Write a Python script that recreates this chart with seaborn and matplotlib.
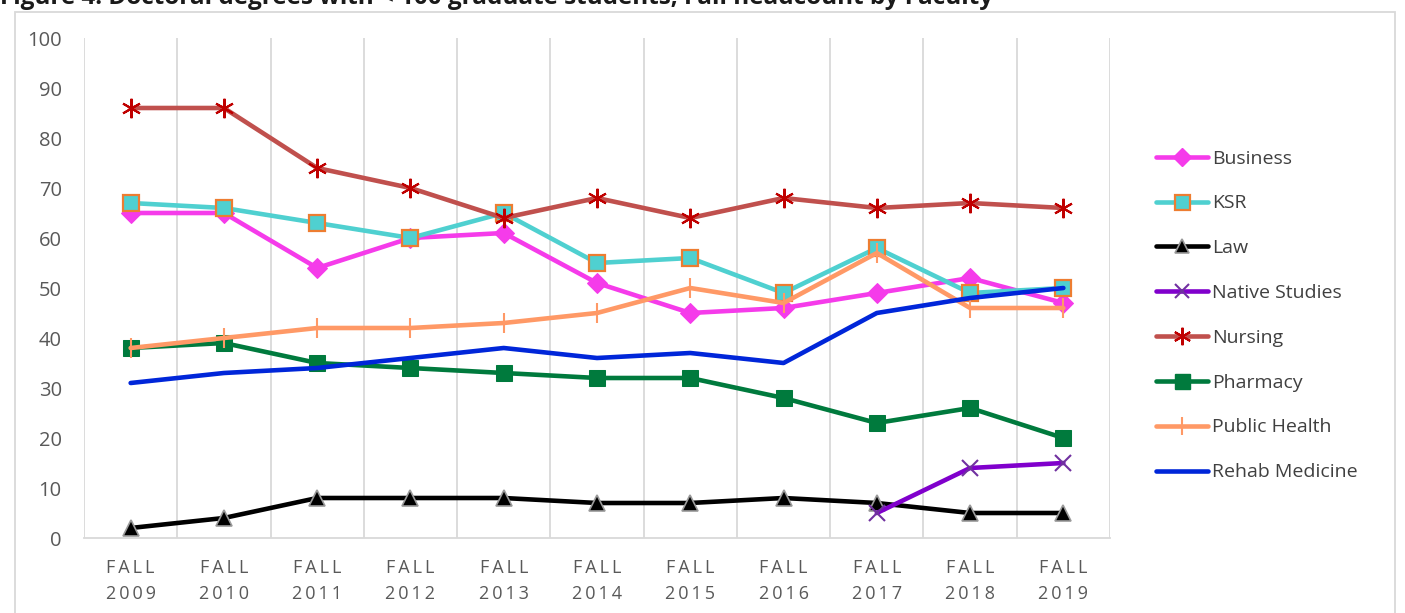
import numpy as np
import pandas as pd
import matplotlib
matplotlib.use("Agg")
import matplotlib.pyplot as plt
import seaborn as sns
from matplotlib.lines import Line2D
from matplotlib.patches import Rectangle

years = ["2009", "2010", "2011", "2012", "2013", "2014", "2015", "2016", "2017", "2018", "2019"]
business = [65, 65, 54, 60, 61, 51, 45, 46, 49, 52, 47]
ksr = [67, 66, 63, 60, 65, 55, 56, 49, 58, 49, 50]
law = [2, 4, 8, 8, 8, 7, 7, 8, 7, 5, 5]
native = [np.nan] * 8 + [5, 14, 15]
nursing = [86, 86, 74, 70, 64, 68, 64, 68, 66, 67, 66]
pharmacy = [38, 39, 35, 34, 33, 32, 32, 28, 23, 26, 20]
public_health = [38, 40, 42, 42, 43, 45, 50, 47, 57, 46, 46]
rehab = [31, 33, 34, 36, 38, 36, 37, 35, 45, 48, 50]

series = [
    ("Business", business, dict(color="#F53BEA", marker="D", ms=10, mfc="#F53BEA", mec="#F53BEA")),
    ("KSR", ksr, dict(color="#4FD0D0", marker="s", ms=12, mfc="#4FD0D0", mec="#ED7D31", mew=1.6)),
    ("Law", law, dict(color="#000000", marker="^", ms=11, mfc="#000000", mec="#9A9A9A", mew=1.2)),
    ("Native Studies", native, dict(color="#8000CC", marker="x", ms=11, mfc="#7030A0", mec="#7030A0", mew=1.5)),
    ("Nursing", nursing, dict(color="#C0504D", marker=(6, 2, 0), ms=14, mec="#C00000", mew=1.5)),
    ("Pharmacy", pharmacy, dict(color="#007A3D", marker="s", ms=12, mfc="#007A3D", mec="#007A3D")),
    ("Public Health", public_health, dict(color="#FF9966", marker="|", ms=14, mec="#FF9966", mew=1.5)),
    ("Rehab Medicine", rehab, dict(color="#0026D9", marker=None)),
]

sns.set_theme(style="white")
plt.rcParams["font.family"] = ["Open Sans", "DejaVu Sans"]

fig = plt.figure(figsize=(14.05, 6.13), dpi=100)
ax = fig.add_axes([84 / 1405, 1 - 538 / 613, (1110 - 84) / 1405, (538 - 38) / 613])

x = np.arange(len(years))
handles = []
for name, vals, st in series:
    df = pd.DataFrame({"x": x, "y": vals})
    kw = dict(st)
    color = kw.pop("color")
    sns.lineplot(data=df, x="x", y="y", ax=ax, color=color, linewidth=3.3,
                 markersize=kw.pop("ms", 10), **kw, legend=False, zorder=3)
    handles.append(Line2D([0], [0], color=color, linewidth=3.3,
                          marker=st.get("marker"), markersize=st.get("ms", 10) * 0.9,
                          markerfacecolor=st.get("mfc", color), markeredgecolor=st.get("mec", color),
                          markeredgewidth=st.get("mew", 1.0), solid_capstyle="round"))

ax.set_xlim(-0.5, len(years) - 0.5)
ax.set_ylim(0, 100)
ax.set_yticks(np.arange(0, 101, 10))
ax.set_xticks(x)
ts = "\u2009"
ax.set_xticklabels([ts.join("FALL") + "\n" + ts.join(y) for y in years],
                   fontsize=13, color="#595959", linespacing=1.6)
ax.tick_params(axis="y", labelsize=14.5, labelcolor="#595959", length=0, pad=16)
ax.tick_params(axis="x", length=0, pad=15)
ax.set_xlabel("")
ax.set_ylabel("")
for b in np.arange(-0.5, len(years), 1.0):
    ax.axvline(b, color="#D9D9D9", linewidth=1.3, zorder=0)
for s in ["top", "right", "left"]:
    ax.spines[s].set_visible(False)
ax.spines["bottom"].set_color("#D9D9D9")
ax.spines["bottom"].set_linewidth(1.3)
ax.grid(False)

leg = fig.legend(handles, [s[0] for s in series], loc="upper left",
                 bbox_to_anchor=(1138 / 1405, 1 - 132 / 613), frameon=False,
                 fontsize=14, labelspacing=1.38, handlelength=2.7, handletextpad=0.2,
                 labelcolor="#404040")

fig.patches.append(Rectangle((15 / 1405, -0.05), (1395 - 15) / 1405, 1 - 12 / 613 + 0.05,
                             transform=fig.transFigure, fill=False, edgecolor="#D9D9D9",
                             linewidth=1.3, zorder=0))
fig.text(0.0, 1 - 4 / 613, "Figure 4. Doctoral degrees with < 100 graduate students, Fall headcount by Faculty",
         fontsize=17.5, fontweight="bold", color="#1a1a1a", va="baseline", ha="left")

fig.savefig("out.png", dpi=100)
